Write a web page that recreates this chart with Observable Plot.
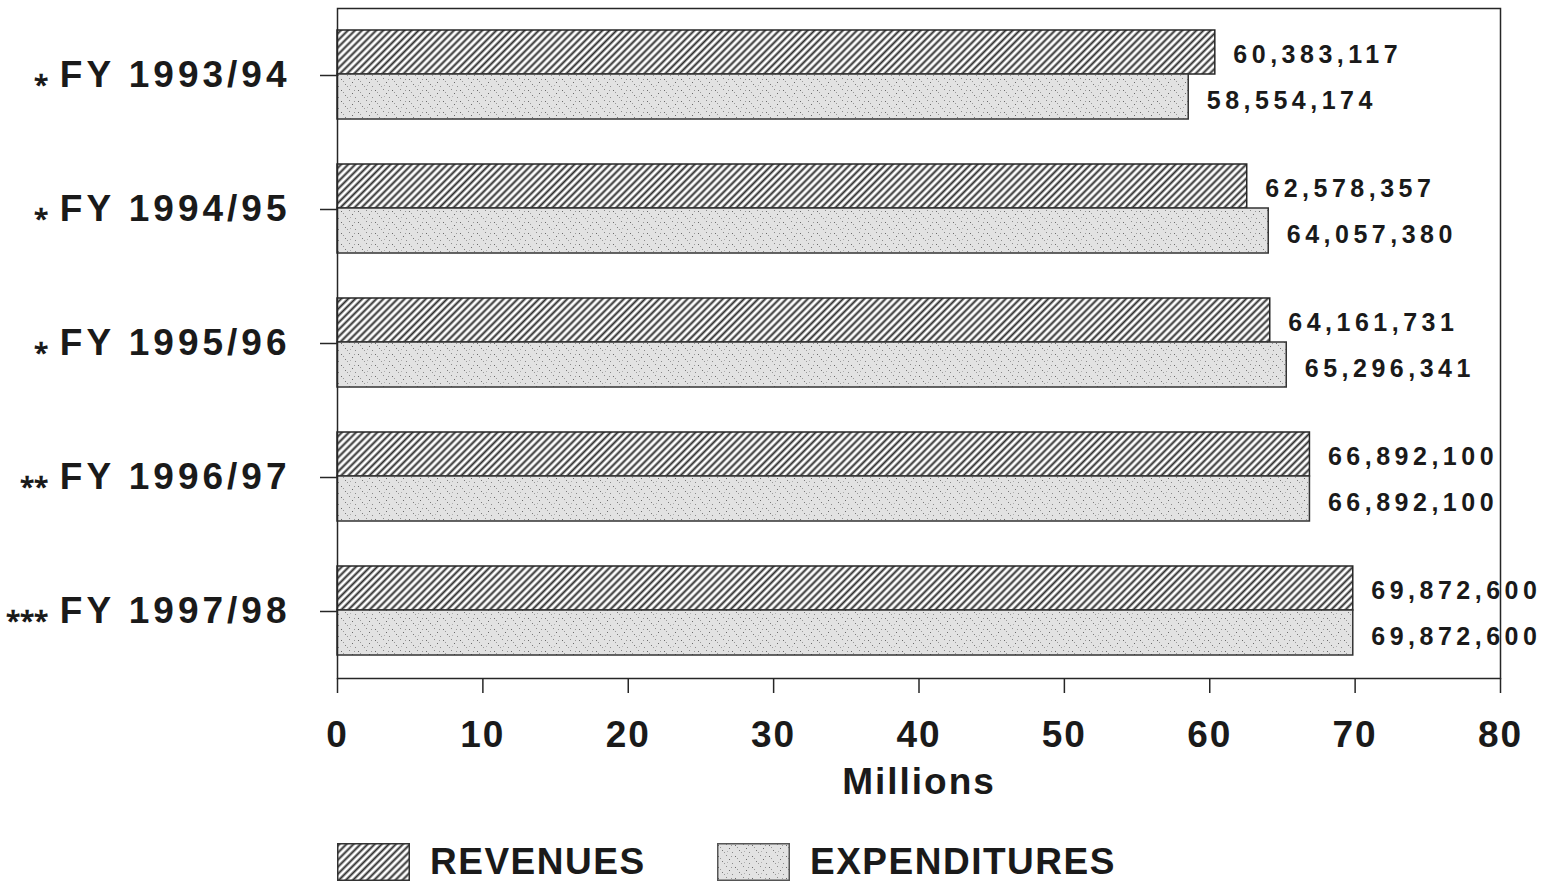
<!DOCTYPE html>
<html>
<head>
<meta charset="utf-8">
<script src="https://cdn.jsdelivr.net/npm/d3@7"></script>
<script src="https://cdn.jsdelivr.net/npm/@observablehq/plot@0.6"></script>
<style>
  html, body { margin: 0; padding: 0; background: #fff; }
  body { width: 1543px; height: 884px; position: relative; overflow: hidden;
         font-family: "Liberation Sans", Arial, Helvetica, sans-serif; color: #1a1a1a; }
  #chart svg { display: block; }
  #chart svg text { font-weight: bold; letter-spacing: 2px; }
  #chart svg g[aria-label="text"] text { letter-spacing: 4.5px; }
  .legend-item { position: absolute; top: 843px; height: 38px; display: flex; align-items: center; }
  .legend-item svg { display: block; }
  .legend-item span { font-weight: bold; font-size: 37px; letter-spacing: 1.5px; margin-left: 20px; line-height: 38px; }
</style>
</head>
<body>
<svg width="0" height="0" style="position:absolute">
  <defs>
    <pattern id="hatch" patternUnits="userSpaceOnUse" width="5" height="5" patternTransform="rotate(45)">
      <rect width="5" height="5" fill="#ffffff"></rect>
      <line x1="2.5" y1="-1" x2="2.5" y2="6" stroke="#2e2e2e" stroke-width="2"></line>
    </pattern>
    <pattern id="stipple" patternUnits="userSpaceOnUse" width="17" height="11">
      <rect width="17" height="11" fill="#e2e2e2"></rect>
      <rect x="1" y="2" width="1" height="1" fill="#6a6a6a"></rect>
      <rect x="5" y="7" width="1" height="1" fill="#7a7a7a"></rect>
      <rect x="9" y="1" width="1" height="1" fill="#8a8a8a"></rect>
      <rect x="12" y="5" width="1" height="1" fill="#6a6a6a"></rect>
      <rect x="15" y="9" width="1" height="1" fill="#8a8a8a"></rect>
      <rect x="3" y="4" width="1" height="1" fill="#9a9a9a"></rect>
      <rect x="7" y="9" width="1" height="1" fill="#9a9a9a"></rect>
      <rect x="14" y="2" width="1" height="1" fill="#9a9a9a"></rect>
      <rect x="10" y="8" width="1" height="1" fill="#b0b0b0"></rect>
    </pattern>
  </defs>
</svg>
<div id="chart"></div>
<div class="legend-item" style="left:337px">
  <svg width="73" height="38"><rect x="0.75" y="0.75" width="71.5" height="36.5" fill="url(#hatch)" stroke="#333" stroke-width="1.5"></rect></svg>
  <span id="leg0"></span>
</div>
<div class="legend-item" style="left:717px">
  <svg width="73" height="38"><rect x="0.75" y="0.75" width="71.5" height="36.5" fill="url(#stipple)" stroke="#555" stroke-width="1.5"></rect></svg>
  <span id="leg1"></span>
</div>
<script>
const years = ["FY 1993/94", "FY 1994/95", "FY 1995/96", "FY 1996/97", "FY 1997/98"];
const notes = ["*", "*", "*", "**", "***"];
const revenues = [60383117, 62578357, 64161731, 66892100, 69872600];
const expenditures = [58554174, 64057380, 65296341, 66892100, 69872600];
const xTicks = [0, 10, 20, 30, 40, 50, 60, 70, 80];
const seriesNames = ["REVENUES", "EXPENDITURES"];
const axisLabel = "Millions";

const rows = years.map((year, i) => ({year, note: notes[i], revenue: revenues[i], expenditure: expenditures[i]}));
const noteOf = new Map(rows.map(d => [d.year, d.note]));
const fmt = d3.format(",");

const chart = Plot.plot({
  width: 1543,
  height: 830,
  marginLeft: 337,
  marginRight: 43,
  marginTop: 8,
  marginBottom: 152,
  style: {fontSize: "37px", fontFamily: "'Liberation Sans', Arial, sans-serif", color: "#1a1a1a", background: "#fff"},
  x: {domain: [0, 80], ticks: xTicks, tickFormat: d => String(d), tickSize: 15, tickPadding: 27,
      label: axisLabel, labelAnchor: "center", labelArrow: "none", labelOffset: 115},
  y: {domain: years, padding: 0, tickSize: 17, tickPadding: 30,
      tickFormat: d => `${noteOf.get(d)} ${d}`, label: null},
  marks: [
    Plot.barX(rows, {x: d => d.revenue / 1e6, y: "year", insetTop: 22, insetBottom: 68,
      fill: "url(#hatch)", stroke: "#262626", strokeWidth: 1.5}),
    Plot.barX(rows, {x: d => d.expenditure / 1e6, y: "year", insetTop: 66, insetBottom: 23,
      fill: "url(#stipple)", stroke: "#333", strokeWidth: 1.5}),
    Plot.text(rows, {x: d => d.revenue / 1e6, y: "year", text: d => fmt(d.revenue),
      dx: 18, dy: -21, textAnchor: "start", fontSize: 25, fill: "#1a1a1a"}),
    Plot.text(rows, {x: d => d.expenditure / 1e6, y: "year", text: d => fmt(d.expenditure),
      dx: 18, dy: 25, textAnchor: "start", fontSize: 25, fill: "#1a1a1a"}),
    Plot.frame({stroke: "#262626", strokeWidth: 1.5})
  ]
});

// Make the footnote stars small and low, as in the reference
d3.select(chart).selectAll("text").each(function () {
  const t = this.textContent;
  const m = /^(\*+) (FY .*)$/.exec(t);
  if (!m) return;
  const sel = d3.select(this).style("letter-spacing", "4px");
  sel.text(null);
  sel.append("tspan").attr("font-size", 26).attr("dy", -6).style("letter-spacing", "0px")
    .text(m[1].replace(/\*/g, "⁎"));
  sel.append("tspan").attr("dy", 6).attr("dx", 12).text(m[2]);
});
d3.select(chart).selectAll("line, path").filter(function () {
  return this.closest('g[aria-label*="axis"]');
}).attr("stroke", "#262626").attr("stroke-width", 1.5);

document.getElementById("chart").appendChild(chart);
document.getElementById("leg0").textContent = seriesNames[0];
document.getElementById("leg1").textContent = seriesNames[1];
</script>
</body>
</html>
